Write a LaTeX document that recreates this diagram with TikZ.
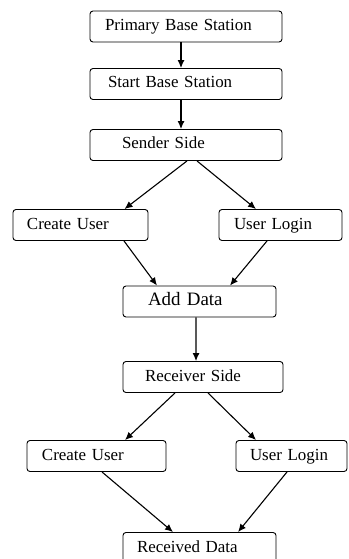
\documentclass[tikz,border=0pt]{standalone}
\usepackage{fontspec}
\setmainfont{Liberation Serif}
\usetikzlibrary{arrows.meta}

\tikzset{
  stepbox/.style={draw, rounded corners=3bp, line width=0.9bp, minimum height=31bp,
    text height=12bp, text depth=4bp,
    align=left, font=\fontsize{17}{19}\selectfont},
  flow/.style={-{Latex[length=8bp,width=7bp]}, line width=1.1bp}
}

\begin{document}
\begin{tikzpicture}[x=1bp,y=-1bp]

\useasboundingbox (0,0) rectangle (348,559);

\node[stepbox, inner xsep=15bp, text width=162bp] (pbs) at (186,26.5) {Primary Base Station};
\node[stepbox, inner xsep=18bp, text width=156bp] (sbs) at (186,84) {Start Base Station};
\node[stepbox, inner xsep=32bp, text width=128bp] (sender) at (186,145) {Sender Side};

\node[stepbox, inner xsep=14bp, text width=107bp] (cuA) at (80.5,225) {Create User};
\node[stepbox, inner xsep=15bp, text width=93bp] (ulA) at (280.5,225) {User Login};

\node[stepbox, inner xsep=25bp, text width=103bp, font=\fontsize{19}{21}\selectfont] (add) at (199.5,301.5) {Add Data};
\node[stepbox, inner xsep=22bp, text width=116bp] (recv) at (203,377) {Receiver Side};

\node[stepbox, inner xsep=15bp, text width=109bp] (cuB) at (96.5,456) {Create User};
\node[stepbox, inner xsep=14bp, text width=83bp] (ulB) at (291.5,456) {User Login};

\node[stepbox, inner xsep=14bp, text width=125bp] (rd) at (199.5,548) {Received Data};

\foreach \a/\da/\b/\db in {pbs/-5/sbs/-5, sbs/-5/sender/-5,
    sender/1/cuA/44, sender/11/ulA/-24.5,
    cuA/43.5/add/-42.5, ulA/-13.5/add/30.5,
    add/-3.5/recv/-7,
    recv/-28/cuB/28.5, recv/5/ulB/-35.5,
    cuB/5.5/rd/-26.5, ulB/-4.5/rd/38.5}
    \draw[flow] ([xshift=\da bp]\a.south) -- ([xshift=\db bp]\b.north);

\end{tikzpicture}
\end{document}
